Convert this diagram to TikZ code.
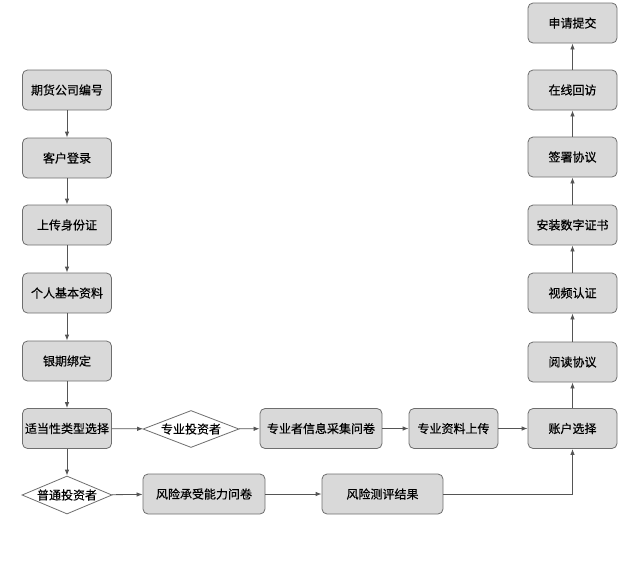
\documentclass[tikz,border=0pt]{standalone}
\usepackage{fontspec}
\setmainfont{Noto Sans CJK SC}[FakeBold=0.4]
\usepackage{tikz}
\usetikzlibrary{arrows.meta,shapes.geometric}
\definecolor{boxfill}{HTML}{D9D9D9}
\definecolor{boxline}{HTML}{6E6E6E}
\definecolor{arrowline}{HTML}{555555}

\begin{document}
\begin{tikzpicture}[x=1pt,y=-1pt,
		stepbox/.style={draw=boxline, fill=boxfill, rounded corners=5pt, line width=0.8pt, minimum width=89pt, minimum height=40pt, inner sep=0pt, font=\fontsize{12}{14}\selectfont},
		widebox/.style={stepbox, minimum width=122pt},
		choice/.style={diamond, draw=boxline, fill=white, line width=0.8pt, shape aspect=2.6, minimum width=96pt, minimum height=37pt, inner sep=0pt, font=\fontsize{12}{14}\selectfont},
		flow/.style={draw=arrowline, line width=0.8pt, -{Latex[length=6pt,width=4.5pt]}}]
			\useasboundingbox (0,0) rectangle (640,571);
			% left column
			\foreach \name/\y/\txt in {l1/90/期货公司编号, l2/158/客户登录, l3/225/上传身份证, l4/293/个人基本资料, l5/361/银期绑定, l6/428.5/适当性类型选择}
				\node[stepbox] (\name) at (67,\y) {\txt};
			\foreach \a/\b in {l1/l2, l2/l3, l3/l4, l4/l5, l5/l6} \draw[flow] (\a) -- (\b);
			% professional branch
			\node[choice] (pro) at (191,429) {专业投资者};
			\node[widebox] (proinfo) at (321,428.5) {专业者信息采集问卷};
			\node[stepbox] (proup) at (453.5,428.5) {专业资料上传};
			\node[stepbox] (acct) at (572.5,428.5) {账户选择};
			\draw[flow] (l6) -- (pro);
			\draw[flow] (pro) -- (proinfo);
			\draw[flow] (proinfo) -- (proup);
			\draw[flow] (proup) -- (acct);
			% ordinary branch
			\node[choice, minimum width=90pt, minimum height=38pt] (normal) at (67,495) {普通投资者};
			\node[widebox] (risk1) at (204,494) {风险承受能力问卷};
			\node[widebox, minimum width=121pt] (risk2) at (382.5,494) {风险测评结果};
			\draw[flow] (l6) -- (normal);
			\draw[flow] (normal) -- (risk1);
			\draw[flow] (risk1) -- (risk2);
			\draw[flow] (risk2.east) -| (acct.south);
			% right column
			\foreach \name/\y/\txt in {r1/23/申请提交, r2/90/在线回访, r3/157/签署协议, r4/225/安装数字证书, r5/293/视频认证, r6/362/阅读协议}
				\node[stepbox] (\name) at (572.5,\y) {\txt};
			\foreach \a/\b in {acct/r6, r6/r5, r5/r4, r4/r3, r3/r2, r2/r1} \draw[flow] (\a) -- (\b);
		\end{tikzpicture}
\end{document}
